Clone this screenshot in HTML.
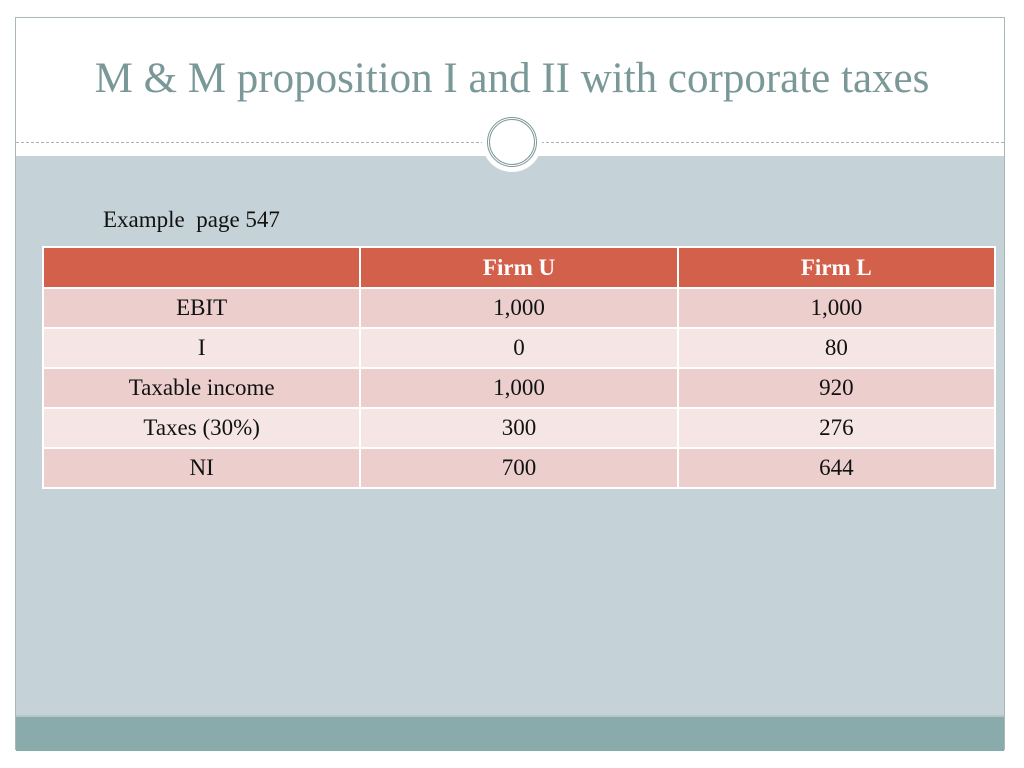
<!DOCTYPE html>
<html><head><meta charset="utf-8"><style>
body{margin:0;width:1024px;height:768px;background:#fff;position:relative;overflow:hidden;font-family:"Liberation Serif",serif}
.frame{position:absolute;left:15px;top:17px;width:990px;height:733px;border:1px solid #a9b9b9;box-sizing:border-box;background:#fff}
.body{position:absolute;left:16px;top:156px;width:988px;height:559px;background:#c5d2d7}
.foot{position:absolute;left:16px;top:715px;width:988px;height:34px;background:#8aabab;border-top:2px solid #b7c6c8}
.dash{position:absolute;left:16px;top:142px;width:988px;border-top:1px dashed #a8b4b4}
.circ{position:absolute;left:482px;top:112px;width:60px;height:60px;border-radius:50%;background:#fff}
.ring{position:absolute;left:487px;top:117px;width:44px;height:44px;border-radius:50%;border:3px double #7f9797}
h1{position:absolute;left:0;width:1024px;top:54px;margin:0;text-align:center;font-weight:normal;font-size:43px;color:#7a9898}
.ex{position:absolute;left:103px;top:207px;font-size:23px;color:#111}
table{position:absolute;left:42px;top:246px;width:954px;border-collapse:collapse;font-size:23px;color:#111}
td{border:2px solid #fff;text-align:center;height:38px;padding:0}
tr.h td{background:#d2604a;color:#fff;font-weight:bold;height:39px}
tr.a td{background:#eccfcd}
tr.b td{background:#f5e6e5}
</style></head><body>
<div class="frame"></div>
<div class="body"></div>
<div class="foot"></div>
<div class="dash"></div>
<div class="circ"></div>
<div class="ring"></div>
<h1>M &amp; M proposition I and II with corporate taxes</h1>
<div class="ex">Example&nbsp; page 547</div>
<table>
<colgroup><col style="width:318px"><col style="width:318px"><col style="width:318px"></colgroup>
<tr class="h"><td></td><td>Firm U</td><td>Firm L</td></tr>
<tr class="a"><td>EBIT</td><td>1,000</td><td>1,000</td></tr>
<tr class="b"><td>I</td><td>0</td><td>80</td></tr>
<tr class="a"><td>Taxable income</td><td>1,000</td><td>920</td></tr>
<tr class="b"><td>Taxes (30%)</td><td>300</td><td>276</td></tr>
<tr class="a"><td>NI</td><td>700</td><td>644</td></tr>
</table>
</body></html>
